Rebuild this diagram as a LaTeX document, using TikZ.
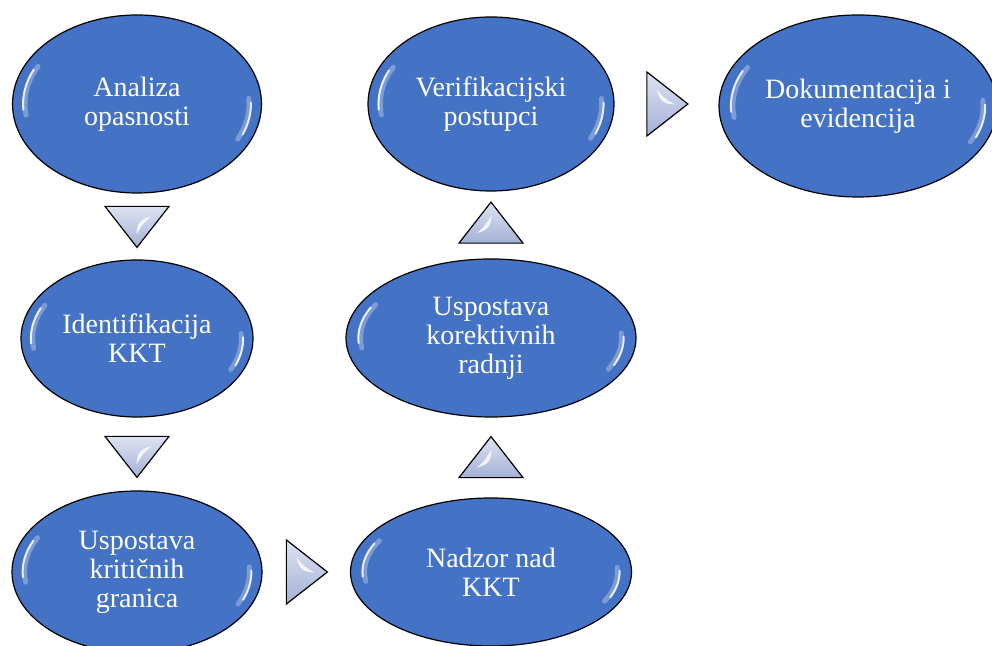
\documentclass[tikz,border=0pt]{standalone}
\usepackage{fontspec}
\setmainfont{Liberation Serif}
\usepackage{tikz}
\usetikzlibrary{shapes,positioning,calc}
\usepackage{xcolor}
\definecolor{ssblue}{RGB}{68,114,196}
\definecolor{ssbluedark}{RGB}{44,78,140}
\definecolor{trilight}{RGB}{222,227,242}
\definecolor{tridark}{RGB}{164,177,214}
\pgfdeclareradialshading{glossy}{\pgfpoint{0bp}{0bp}}{color(0bp)=(ssblue); color(40bp)=(ssblue); color(46bp)=(ssblue!86!black); color(50bp)=(ssbluedark)}
\tikzstyle{flow} = [isosceles triangle, isosceles triangle stretches, draw=black, line width=1.2pt, top color=trilight, bottom color=tridark, inner sep=0pt, minimum width=64pt, minimum height=41pt]

\begin{document}
\begin{tikzpicture}[
    x=1pt, y=1pt,
    node distance=116pt,
    stage/.style={ellipse, draw=black, line width=1.2pt, shading=glossy, text=white, align=center, inner sep=0pt, font=\fontsize{28}{29}\selectfont,
      path picture={
        \draw[white, opacity=.3, line width=5pt, line cap=round]
          let \p1=(path picture bounding box.north east), \p2=(path picture bounding box.center) in
          ($(\p2)+(152:{0.9*(\x1-\x2)} and {0.9*(\y1-\y2)})$) arc[start angle=152, end angle=188, x radius={0.9*(\x1-\x2)}, y radius={0.9*(\y1-\y2)}]
          ($(\p2)+(-26:{0.9*(\x1-\x2)} and {0.9*(\y1-\y2)})$) arc[start angle=-26, end angle=4, x radius={0.9*(\x1-\x2)}, y radius={0.9*(\y1-\y2)}];
        \draw[white, opacity=.85, line width=2pt, line cap=round]
          let \p1=(path picture bounding box.north east), \p2=(path picture bounding box.center) in
          ($(\p2)+(155:{0.915*(\x1-\x2)} and {0.915*(\y1-\y2)})$) arc[start angle=155, end angle=184, x radius={0.915*(\x1-\x2)}, y radius={0.915*(\y1-\y2)}]
          ($(\p2)+(-22:{0.915*(\x1-\x2)} and {0.915*(\y1-\y2)})$) arc[start angle=-22, end angle=1, x radius={0.915*(\x1-\x2)}, y radius={0.915*(\y1-\y2)}];
      }}
]
\useasboundingbox (0,0) rectangle (992,645);
\clip (0,0) rectangle (992,645);

% Left column
\node (analiza) [stage, minimum width=249pt, minimum height=178pt] at (137,541) {Analiza\\opasnosti};
\node (t1) [flow, shape border rotate=270, below of=analiza, yshift=-2pt] {};
\node (kkt) [stage, minimum width=232pt, minimum height=157pt, below of=t1, yshift=-0.5pt] {Identifikacija\\KKT};
\node (t2) [flow, shape border rotate=270, below of=kkt, yshift=2.5pt] {};
\node (granice) [stage, minimum width=250pt, minimum height=162pt, below of=t2, yshift=-4pt] {Uspostava\\kritičnih\\granica};

% Middle column
\node (t3) [flow, right of=granice, xshift=49pt] {};
\node (nadzor) [stage, minimum width=281pt, minimum height=148pt, right of=t3, xshift=73pt] {Nadzor nad\\KKT};
\node (t4) [flow, shape border rotate=90, above of=nadzor, yshift=-6pt] {};
\node (radnje) [stage, minimum width=290pt, minimum height=158pt, above of=t4, yshift=8pt] {Uspostava\\korektivnih\\radnji};
\node (t5) [flow, shape border rotate=90, above of=radnje, yshift=-5.5pt] {};
\node (verif) [stage, minimum width=246pt, minimum height=174pt, above of=t5, yshift=7.5pt] {Verifikacijski\\postupci};

% Right
\node (t6) [flow, right of=verif, xshift=55.5pt] {};
\node (dok) [stage, minimum width=278pt, minimum height=182pt, right of=t6, xshift=79.5pt, yshift=-2pt] {Dokumentacija i\\evidencija};

% Gloss on the arrows
\foreach \t/\r in {t1/270, t2/270, t3/0, t4/90, t5/90, t6/0}
  \fill[white, opacity=.8, shift={(\t.center)}, rotate=\r]
    (-5.5,14.5) .. controls (-3,3) and (1,0) .. (12.5,-0.5) .. controls (4,4) and (-2,9) .. (-5.5,14.5);
\end{tikzpicture}
\end{document}
